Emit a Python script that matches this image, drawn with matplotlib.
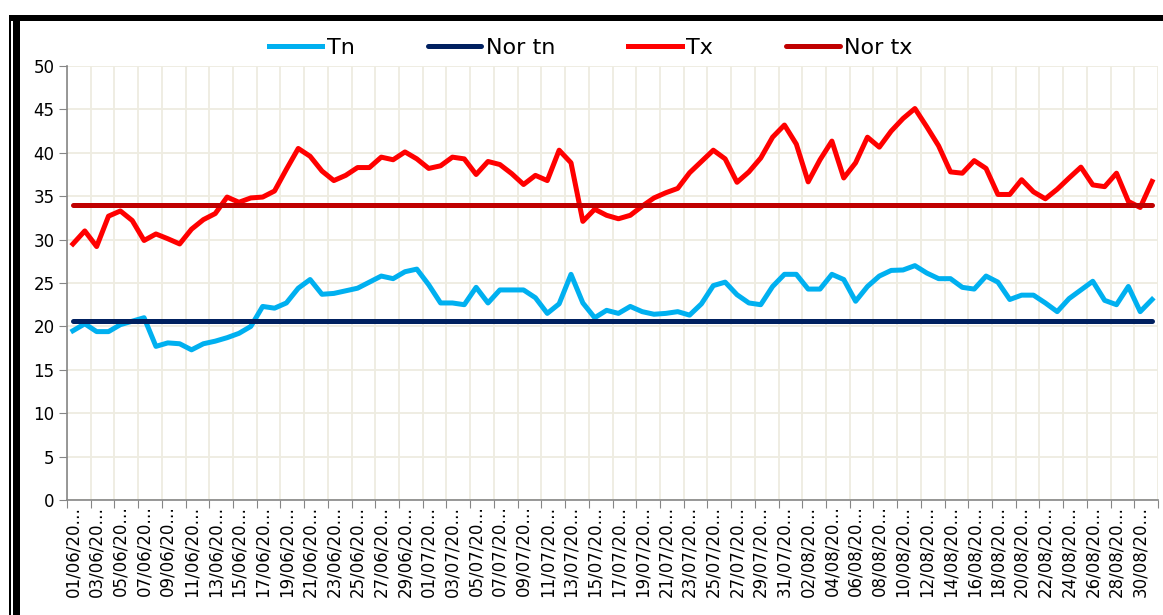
import numpy as np
import pandas as pd
import matplotlib
matplotlib.use("Agg")
from matplotlib import pyplot as plt
from matplotlib.patches import Rectangle

# daily values, 01/06 to 31/08
dates = pd.date_range("2020-06-01", "2020-08-31", freq="D")
date_labels = [d.strftime("%d/%m/") + "20\u2026" for d in dates]

tn = [19.5, 20.3, 19.4, 19.4, 20.2, 20.6, 21.0, 17.7, 18.1, 18.0,
      17.3, 18.0, 18.3, 18.7, 19.2, 20.0, 22.3, 22.1, 22.7, 24.4,
      25.4, 23.7, 23.8, 24.1, 24.4, 25.1, 25.8, 25.5, 26.3, 26.6,
      24.8, 22.7, 22.7, 22.5, 24.5, 22.7, 24.2, 24.2, 24.2, 23.3,
      21.5, 22.6, 26.0, 22.7, 21.0, 21.85, 21.5, 22.3, 21.7, 21.4,
      21.5, 21.7, 21.3, 22.6, 24.7, 25.1, 23.65, 22.7, 22.5, 24.6,
      26.0, 26.0, 24.3, 24.3, 26.0, 25.4, 22.9, 24.6, 25.8, 26.45,
      26.5, 27.0, 26.15, 25.5, 25.5, 24.5, 24.3, 25.8, 25.1, 23.1,
      23.6, 23.6, 22.7, 21.7, 23.2, 24.2, 25.2, 23.0, 22.5, 24.6,
      21.7, 23.1]

tx = [29.5, 31.0, 29.2, 32.7, 33.3, 32.2, 29.9, 30.65, 30.1, 29.5,
      31.2, 32.3, 33.0, 34.9, 34.3, 34.8, 34.9, 35.6, 38.1, 40.5,
      39.6, 37.9, 36.8, 37.4, 38.3, 38.3, 39.5, 39.2, 40.1, 39.3,
      38.2, 38.5, 39.5, 39.3, 37.5, 39.0, 38.65, 37.6, 36.35, 37.4,
      36.8, 40.3, 38.85, 32.1, 33.5, 32.8, 32.4, 32.8, 33.85, 34.8,
      35.4, 35.9, 37.7, 39.0, 40.3, 39.3, 36.6, 37.8, 39.4, 41.8,
      43.2, 41.0, 36.65, 39.2, 41.35, 37.1, 38.85, 41.8, 40.65, 42.5,
      43.95, 45.1, 43.0, 40.8, 37.8, 37.65, 39.1, 38.2, 35.2, 35.2,
      36.9, 35.5, 34.7, 35.8, 37.1, 38.35, 36.3, 36.1, 37.65, 34.4,
      33.7, 36.7]

nor_tn = 20.6
nor_tx = 34.0

df = pd.DataFrame({"Tn": tn, "Tx": tx})
df["Nor tn"] = nor_tn
df["Nor tx"] = nor_tx
x = np.arange(len(df))

W, H = 1163, 615
fig = plt.figure(figsize=(W / 100, H / 100), dpi=100)
ax = fig.add_axes([67 / W, 1 - 500 / H, (1158 - 67) / W, (500 - 66) / H])

lw = 3.6
ax.plot(x, df["Tn"], color="#00B0F0", lw=lw, label="Tn", solid_joinstyle="round")
ax.plot(x, df["Nor tn"], color="#002060", lw=lw, label="Nor tn", solid_capstyle="round")
ax.plot(x, df["Tx"], color="#FF0000", lw=lw, label="Tx", solid_joinstyle="round")
ax.plot(x, df["Nor tx"], color="#C00000", lw=lw, label="Nor tx", solid_capstyle="round")

ax.set_xlim(-0.5, len(df) - 0.5)
ax.set_ylim(0, 50)
ax.set_yticks(range(0, 51, 5))

# tick marks / grid at category boundaries, labels on every 2nd category
ax.set_xticks(np.arange(-0.5, len(df), 2))
ax.set_xticklabels([])
ax.set_xticks(x[::2], minor=True)
ax.set_xticklabels(date_labels[::2], minor=True, rotation=90)
ax.tick_params(axis="x", which="minor", length=0, pad=4, labelsize=12)
ax.tick_params(axis="x", which="major", length=6, color="#868686")
ax.tick_params(axis="y", length=6, color="#868686", labelsize=12, pad=3)

ax.grid(True, which="major", color="#EEECE1", lw=1.3)
ax.set_axisbelow(True)
for s in ["top", "right"]:
    ax.spines[s].set_visible(False)
for s in ["left", "bottom"]:
    ax.spines[s].set_color("#868686")
    ax.spines[s].set_linewidth(1.2)

fig.legend(loc="center", bbox_to_anchor=(0.508, 1 - 48 / H), ncol=4, frameon=False,
           fontsize=16, handlelength=2.4, handletextpad=0.2, columnspacing=3.3)

# black frame on the left and top
def px_rect(x0, y0, x1, y1):
    fig.add_artist(Rectangle((x0 / W, 1 - y1 / H), (x1 - x0) / W, (y1 - y0) / H,
                             transform=fig.transFigure, color="black", lw=0))

px_rect(9, 15, W, 21)
px_rect(9, 15, 11, H)
px_rect(12.7, 15, 20, H)

fig.savefig("out.png", dpi=100)
